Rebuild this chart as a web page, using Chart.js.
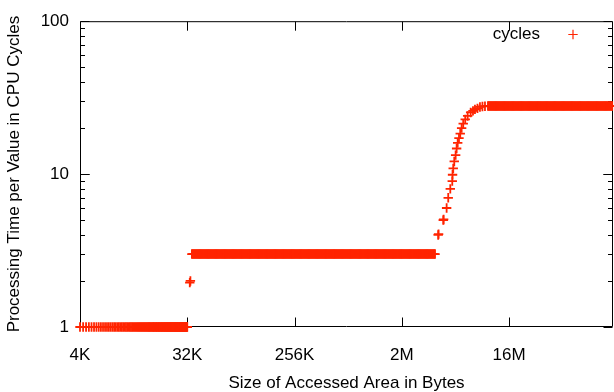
<!DOCTYPE html>
<html>
<head>
<meta charset="utf-8">
<script src="https://cdn.jsdelivr.net/npm/chart.js@4.4.1/dist/chart.umd.min.js"></script>
<style>
  html, body { margin: 0; padding: 0; background: #fff; }
  #wrap { width: 614px; height: 392px; }
</style>
</head>
<body>
<div id="wrap"><canvas id="cacheChart"></canvas></div>
<script>
// ===== Data =====
const xTickSizes = [4096, 32768, 262144, 2097152, 16777216];
const xTickLabels = ["4K", "32K", "256K", "2M", "16M"];
const yTickValues = [1, 10, 100];

// flat stretch measured every 256 bytes: [first size, last size, step, cycles]
const linearRuns = [[4096, 32768, 256, 1.0]];
// flat stretches measured densely: [first size, last size, samples per doubling, cycles]
const octaveRuns = [
  [35840, 4037017, 40, 3.0],
  [11141120, 125829120, 40, 27.9]
];

// single measurements at the jumps (size in KB, cycles)
const jumpSizesKB = [33.6, 34, 4147, 4178, 4577, 4608, 4884, 5038, 5243, 5448, 5478,
  5550, 5663, 5816, 5929, 6052, 6205, 6359, 6533, 6738, 7004, 7342, 7782, 8141, 8458,
  8878, 9318, 9779, 10271];
const jumpCycles = [1.95, 2.0, 4.0, 4.05, 5.0, 5.05, 6.0, 7.0, 8.0, 9.0, 9.9,
  10.9, 12.1, 13.3, 14.7, 16.0, 17.2, 18.4, 20.0, 21.4, 22.8, 24.0, 25.3, 25.9, 26.5,
  26.9, 27.5, 27.7, 27.8];

const markColor = "rgb(255, 36, 0)";

// ===== Build the point table =====
const points = [];
linearRuns.forEach(([from, to, step, cyc]) => {
  for (let s = from; s <= to; s += step) points.push({ x: s, y: cyc });
});
octaveRuns.forEach(([from, to, perOct, cyc]) => {
  const f = Math.pow(2, 1 / perOct);
  for (let s = from; s <= to * 1.0001; s *= f) points.push({ x: s, y: cyc });
});
jumpSizesKB.forEach((kb, i) => points.push({ x: kb * 1024, y: jumpCycles[i] }));
points.sort((a, b) => a.x - b.x);

// ===== Frame, inward ticks and key, drawn gnuplot style =====
const gnuplotFrame = {
  id: "gnuplotFrame",
  beforeDatasetsDraw(chart) {
    const { ctx, chartArea: a, scales: { x, y } } = chart;
    const L = a.left + 0.5, R = a.right - 0.5, T = a.top + 0.5, B = a.bottom - 0.5;
    ctx.save();
    ctx.strokeStyle = "#000";
    ctx.lineWidth = 1;
    ctx.beginPath();
    xTickSizes.forEach(v => {
      const px = Math.round(x.getPixelForValue(v)) + 0.5;
      ctx.moveTo(px, B); ctx.lineTo(px, B - 9);
      ctx.moveTo(px, T); ctx.lineTo(px, T + 9);
    });
    for (let d = 1; d < 100; d *= 10) {
      for (let m = 1; m <= 10; m++) {
        const py = Math.round(y.getPixelForValue(d * m)) + 0.5;
        const len = (m === 1 || m === 10) ? 9 : 4.5;
        ctx.moveTo(L, py); ctx.lineTo(L + len, py);
        ctx.moveTo(R, py); ctx.lineTo(R - len, py);
      }
    }
    ctx.rect(L, T, R - L, B - T);
    ctx.stroke();
    ctx.restore();
  },
  afterDraw(chart) {
    const { ctx } = chart;
    ctx.save();
    ctx.font = "17px 'Liberation Sans', Arial, sans-serif";
    ctx.fillStyle = "#000";
    ctx.textAlign = "right";
    ctx.textBaseline = "middle";
    ctx.fillText("cycles", 540, 34);
    ctx.strokeStyle = markColor;
    ctx.lineWidth = 1.2;
    ctx.beginPath();
    ctx.moveTo(568.3, 34.5); ctx.lineTo(577.7, 34.5);
    ctx.moveTo(573, 29.8); ctx.lineTo(573, 39.2);
    ctx.stroke();
    ctx.restore();
  }
};

Chart.defaults.font.family = "'Liberation Sans', Arial, sans-serif";
Chart.defaults.font.size = 17;
Chart.defaults.color = "#000";

new Chart(document.getElementById("cacheChart"), {
  type: "scatter",
  data: {
    datasets: [{
      label: "cycles",
      data: points,
      pointStyle: "cross",
      pointRadius: 4.7,
      pointBorderWidth: 1.8,
      pointBorderColor: markColor,
      pointBackgroundColor: markColor,
      showLine: false,
      clip: false
    }]
  },
  options: {
    responsive: true,
    maintainAspectRatio: false,
    animation: false,
    events: [],
    layout: { autoPadding: false, padding: { left: 0, right: 1, top: 15, bottom: 0 } },
    plugins: {
      legend: { display: false },
      tooltip: { enabled: false }
    },
    scales: {
      x: {
        type: "logarithmic",
        min: 4096,
        max: 125829120,
        grid: { display: false, drawTicks: false },
        border: { display: false },
        afterBuildTicks: s => { s.ticks = xTickSizes.map(v => ({ value: v })); },
        afterFit: s => { s.height = 65; },
        ticks: {
          autoSkip: false,
          maxRotation: 0,
          padding: 18,
          callback: v => xTickLabels[xTickSizes.indexOf(v)]
        },
        title: {
          display: true,
          text: "Size of Accessed Area in Bytes",
          font: { size: 17, lineHeight: 1 },
          padding: { top: 0, bottom: 0 }
        }
      },
      y: {
        type: "logarithmic",
        min: 1,
        max: 100,
        grid: { display: false, drawTicks: false },
        border: { display: false },
        afterBuildTicks: s => { s.ticks = yTickValues.map(v => ({ value: v })); },
        afterFit: s => { s.width = 80; },
        ticks: {
          padding: 11,
          callback: v => String(v)
        },
        title: {
          display: true,
          text: "Processing Time per Value in CPU Cycles",
          font: { size: 17, lineHeight: 1 },
          padding: { top: 5.5, bottom: 0 }
        }
      }
    }
  },
  plugins: [gnuplotFrame]
});
</script>
</body>
</html>
